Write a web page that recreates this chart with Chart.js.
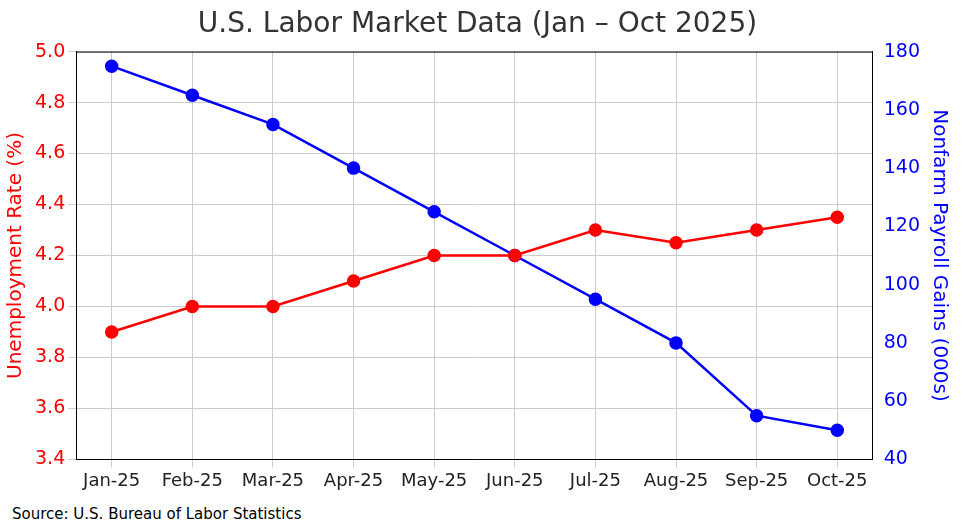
<!DOCTYPE html>
<html>
<head>
<meta charset="utf-8">
<script src="https://cdn.jsdelivr.net/npm/chart.js@4/dist/chart.umd.min.js"></script>
<style>
  body { margin: 0; background: #fff; font-family: "DejaVu Sans", sans-serif; }
  #wrap { position: relative; width: 965px; height: 495px; }
  #src { position: absolute; left: 12px; top: 505px; font-size: 15px; color: #000; }
</style>
</head>
<body>
<div id="wrap"><canvas id="c" width="965" height="495"></canvas></div>
<div id="src">Source: U.S. Bureau of Labor Statistics</div>
<script>
// months along the bottom
const months = ["Jan-25","Feb-25","Mar-25","Apr-25","May-25","Jun-25","Jul-25","Aug-25","Sep-25","Oct-25"];
// unemployment rate, %
const unemployment = [3.9, 4.0, 4.0, 4.1, 4.2, 4.2, 4.3, 4.25, 4.3, 4.35];
// nonfarm payroll gains, thousands
const payrolls = [175, 165, 155, 140, 125, 110, 95, 80, 55, 50];

const grid = { color: "#cccccc", borderDash: [4, 3] };
const tickFont = { family: "DejaVu Sans", size: 19 };

new Chart("c", {
    type: "line",
    data: {
        datasets: [{
            data: unemployment.map((v, i) => ({ x: i, y: v })),
            borderColor: "red", backgroundColor: "red",
            borderWidth: 2.5, pointRadius: 5.5, yAxisID: "y"
        }, {
            data: payrolls.map((v, i) => ({ x: i, y: v })),
            borderColor: "blue", backgroundColor: "blue",
            borderWidth: 2.5, pointRadius: 5.5, yAxisID: "y2"
        }]
    },
    options: {
        responsive: false,
        animation: false,
        layout: { padding: { top: 4, left: 0, right: 10 } },
        plugins: {
            legend: { display: false },
            tooltip: { enabled: false },
            title: {
                display: true,
                text: "U.S. Labor Market Data (Jan \u2013 Oct 2025)",
                color: "#333",
                font: { family: "DejaVu Sans", size: 28, weight: "normal" },
                padding: { top: 4, bottom: 10 }
            }
        },
        scales: {
            x: {
                type: "linear", min: -0.44, max: 9.44,
                afterBuildTicks: ax => { ax.ticks = months.map((m, i) => ({ value: i })); },
                ticks: { color: "#222", font: { family: "DejaVu Sans", size: 18 }, maxRotation: 0, autoSkip: false,
                         callback: v => months[v] },
                grid: grid,
                border: { color: "#000", width: 1 }
            },
            y: {
                position: "left", min: 3.4, max: 5.0,
                ticks: { stepSize: 0.2, color: "red", font: tickFont, callback: v => v.toFixed(1) },
                grid: grid,
                border: { color: "#000" },
                title: { display: true, text: "Unemployment Rate (%)", color: "red",
                         font: { family: "DejaVu Sans", size: 20 } }
            },
            y2: {
                position: "right", min: 40, max: 180,
                ticks: { stepSize: 20, color: "blue", font: tickFont },
                grid: { display: false },
                border: { color: "#000" },
                title: { display: true, text: "Nonfarm Payroll Gains (000s)", color: "blue",
                         font: { family: "DejaVu Sans", size: 20 } }
            }
        }
    },
    plugins: [{
        id: "topBorder",
        afterDraw(chart) {
            const a = chart.chartArea, ctx = chart.ctx;
            ctx.save();
            ctx.strokeStyle = "#000";
            ctx.lineWidth = 1;
            ctx.beginPath();
            ctx.moveTo(a.left, a.top + 0.5);
            ctx.lineTo(a.right, a.top + 0.5);
            ctx.stroke();
            ctx.restore();
        }
    }]
});
</script>
</body>
</html>
